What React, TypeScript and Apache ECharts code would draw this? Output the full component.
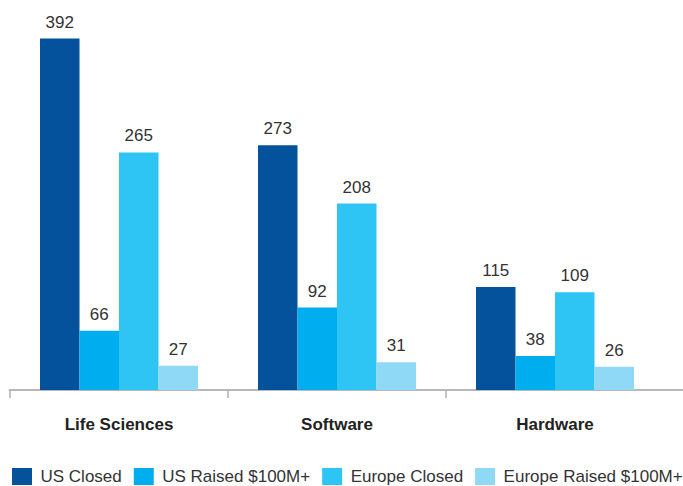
import React, { useEffect, useRef } from "react";
import * as echarts from "echarts";

const categories = ["Life Sciences", "Software", "Hardware"];
const seriesNames = ["US Closed", "US Raised $100M+", "Europe Closed", "Europe Raised $100M+"];
const usClosed = [392, 273, 115];
const usRaised = [66, 92, 38];
const europeClosed = [265, 208, 109];
const europeRaised = [27, 31, 26];
const colors = ["#03529B", "#00AEEF", "#2EC5F4", "#8FD8F6"];
const boundaryTicks = [0, 1, 2];

const FONT = "'Liberation Sans', Arial, sans-serif";

export default function App() {
  const ref = useRef<HTMLDivElement>(null);
  useEffect(() => {
    if (!ref.current) return;
    const chart = echarts.init(ref.current, undefined, { renderer: "svg" });
    const data = [usClosed, usRaised, europeClosed, europeRaised];
    chart.setOption({
      animation: false,
      textStyle: { fontFamily: FONT },
      grid: [
        { left: 10, right: 19, top: 0, bottom: 96, containLabel: false },
        { left: 9.3, right: 0, top: 0, bottom: 96, containLabel: false },
      ],
      legend: {
        left: 12,
        top: 468,
        padding: 0,
        width: 680,
        itemWidth: 20,
        itemHeight: 17,
        itemGap: 12,
        icon: "rect",
        textStyle: { fontSize: 17, color: "#333", fontFamily: FONT, padding: [0, 0, 0, 3.5] },
        data: seriesNames,
      },
      xAxis: [
        {
          type: "category",
          gridIndex: 0,
          data: categories,
          boundaryGap: true,
          axisLine: { show: false },
          axisTick: { show: false },
          axisLabel: { fontSize: 17, fontWeight: "bold", color: "#222", margin: 26, fontFamily: FONT },
        },
        {
          type: "value",
          gridIndex: 1,
          min: 0,
          max: (683 - 9.3) / 218.2,
          axisLine: { show: true, lineStyle: { color: "#a0a0a0", width: 1.5 } },
          axisTick: {
            show: true,
            length: 8,
            lineStyle: { color: "#b0b0b0", width: 1.5 },
            customValues: boundaryTicks,
          },
          axisLabel: { show: false },
          splitLine: { show: false },
        },
      ],
      yAxis: [
        { type: "value", gridIndex: 0, min: 0, max: 435, show: false, splitLine: { show: false } },
        { type: "value", gridIndex: 1, min: 0, max: 1, show: false, splitLine: { show: false } },
      ],
      series: [
        ...seriesNames.map((name, i) => ({
          name,
          type: "bar",
          xAxisIndex: 0,
          yAxisIndex: 0,
          data: data[i],
          barWidth: 39.5,
          barGap: "0%",
          itemStyle: { color: colors[i] },
          label: {
            show: true,
            position: "top",
            distance: 8,
            fontSize: 17,
            color: "#333",
            fontFamily: FONT,
          },
        })),
        {
          name: "_axis",
          type: "scatter",
          xAxisIndex: 1,
          yAxisIndex: 1,
          data: [],
          silent: true,
        },
      ],
    });
    return () => chart.dispose();
  }, []);
  return (
    <div
      ref={ref}
      style={{ position: "absolute", left: 0, top: 0, width: 683, height: 486 }}
    />
  );
}
